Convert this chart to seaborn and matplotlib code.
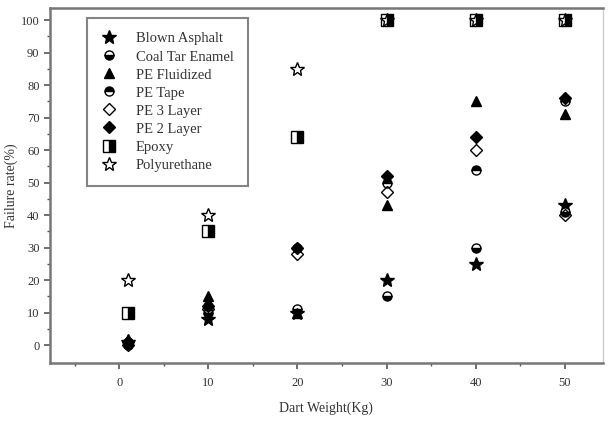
import matplotlib
matplotlib.use("Agg")
import matplotlib.pyplot as plt
import seaborn as sns
import pandas as pd

sns.set_theme(style="ticks")
plt.rcParams['font.family'] = ['Liberation Serif', 'DejaVu Serif']

# Dart weight (Kg)
dart_weight = [1, 10, 20, 30, 40, 50]

# Failure rate (%) per coating
blown_asphalt = [1, 8, 10, 20, 25, 43]
coal_tar_enamel = [0, 10, 11, 15, 30, 41]
pe_fluidized = [2, 15, 10, 43, 75, 71]
pe_tape = [1, 12, 30, 50, 54, 75]
pe_3_layer = [0, 11, 28, 47, 60, 40]
pe_2_layer = [1, 12, 30, 52, 64, 76]
epoxy = [10, 35, 64, 100, 100, 100]
polyurethane = [20, 40, 85, 100, 100, 100]

series = [
    ("Blown Asphalt", blown_asphalt, dict(marker="*", fillstyle="full", markersize=10)),
    ("Coal Tar Enamel", coal_tar_enamel, dict(marker="o", fillstyle="bottom", markersize=6.5)),
    ("PE Fluidized", pe_fluidized, dict(marker="^", fillstyle="full", markersize=7)),
    ("PE Tape", pe_tape, dict(marker="o", fillstyle="top", markersize=6.5)),
    ("PE 3 Layer", pe_3_layer, dict(marker="D", fillstyle="none", markersize=6)),
    ("PE 2 Layer", pe_2_layer, dict(marker="D", fillstyle="full", markersize=6)),
    ("Epoxy", epoxy, dict(marker="s", fillstyle="right", markersize=9)),
    ("Polyurethane", polyurethane, dict(marker="*", fillstyle="none", markersize=10)),
]

fig = plt.figure(figsize=(6.09, 4.21), dpi=100)
ax = fig.add_axes([0.082, 0.138, 0.908, 0.843])

for name, vals, style in series:
    df = pd.DataFrame({"Dart Weight": dart_weight, "Failure": vals})
    sns.lineplot(data=df, x="Dart Weight", y="Failure", ax=ax, label=name,
                 linestyle="", color="black", markeredgecolor="black",
                 markerfacecoloralt="white", markeredgewidth=1.0, **style)

ax.set_xlim(-7.8, 54.3)
ax.set_ylim(-5.5, 103.7)
ax.set_xticks([0, 10, 20, 30, 40, 50])
ax.set_xticks([-5, 5, 15, 25, 35, 45], minor=True)
ax.set_yticks(range(0, 101, 10))
ax.set_yticks(range(5, 101, 10), minor=True)
ax.tick_params(which="major", direction="out", length=4, width=1.2, color="#555555",
               labelsize=9, labelcolor="#333333")
ax.tick_params(axis="x", which="major", pad=6)
ax.tick_params(which="minor", direction="out", length=2, width=1.0, color="#555555")
for s in ax.spines.values():
    s.set_color("#777777")
    s.set_linewidth(1.8)
ax.spines["right"].set_color("#cccccc")
ax.spines["right"].set_linewidth(1.0)

ax.set_xlabel("Dart Weight(Kg)", fontsize=10, color="#333333", labelpad=9)
ax.set_ylabel("Failure rate(%)", fontsize=10, color="#333333", labelpad=2)

leg = ax.legend(loc="upper left", bbox_to_anchor=(0.06, 0.985), fontsize=10.5,
                frameon=True, fancybox=False, handletextpad=1.3,
                borderpad=1.0, labelspacing=0.33, handlelength=1.0,
                borderaxespad=0.3)
leg.get_frame().set_edgecolor("#666666")
leg.get_frame().set_linewidth(1.5)
for t in leg.get_texts():
    t.set_color("#333333")

fig.savefig("out.png", dpi=100)
